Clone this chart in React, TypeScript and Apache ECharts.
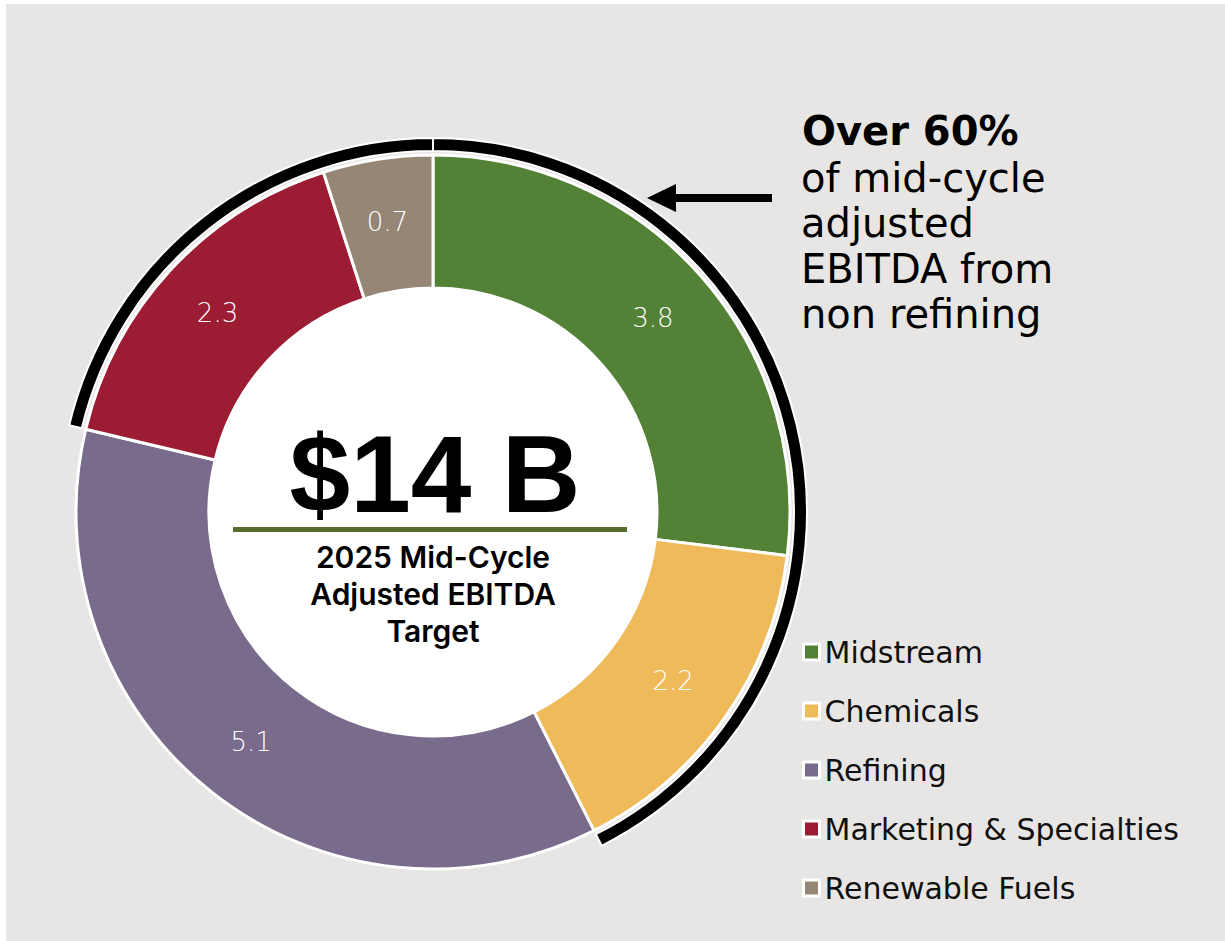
import React, { useEffect, useRef } from "react";
import * as echarts from "echarts";

const categories = ["Midstream", "Chemicals", "Refining", "Marketing & Specialties", "Renewable Fuels"];
const values = [3.8, 2.2, 5.1, 2.3, 0.7];
const colors = ["#538135", "#efbb5a", "#796b8c", "#9b1c33", "#968675"];
const nonRefining = [true, true, false, true, true];
const centerTitle = "$14 B";
const centerSubtitle = ["2025 Mid-Cycle", "Adjusted EBITDA", "Target"];
const calloutBold = "Over 60%";
const calloutLines = ["of mid-cycle", "adjusted", "EBITDA from", "non refining"];

const FONT = "'DejaVu Sans', sans-serif";
const CX = 433;
const CY = 512;

export default function App() {
  const ref = useRef<HTMLDivElement>(null);
  useEffect(() => {
    document.body.style.margin = "0";
    if (!ref.current) return;
    const chart = echarts.init(ref.current, null, { renderer: "svg" });

    // ring data: merge contiguous non-refining groups
    const ringData: any[] = [];
    let acc = 0;
    let accFlag: boolean | null = null;
    values.forEach((v, i) => {
      const f = nonRefining[i];
      if (accFlag === null || f === accFlag) {
        acc += v;
        accFlag = f;
      } else {
        ringData.push({ value: acc, flag: accFlag });
        acc = v;
        accFlag = f;
      }
    });
    ringData.push({ value: acc, flag: accFlag });

    chart.setOption({
      animation: false,
      backgroundColor: "#ffffff",
      graphic: [
        { type: "rect", z: -10, shape: { x: 6, y: 4, width: 1225, height: 941 }, style: { fill: "#e7e6e4" } },
        { type: "circle", z: -5, shape: { cx: CX, cy: CY, r: 226 }, style: { fill: "#ffffff" } },
        {
          type: "text",
          z: 10,
          x: CX + 2,
          y: 474,
          style: {
            text: centerTitle,
            fill: "#000",
            font: "bold 109px 'Liberation Sans', Arial, sans-serif",
            align: "center",
            verticalAlign: "middle",
          },
        },
        { type: "rect", z: 10, shape: { x: 233, y: 527, width: 394, height: 5 }, style: { fill: "#576d30" } },
        {
          type: "text",
          z: 10,
          x: CX,
          y: 594,
          style: {
            text: centerSubtitle.join("\n"),
            fill: "#000",
            fontFamily: "Inter, 'Noto Sans', sans-serif",
            fontWeight: 600,
            fontSize: 30,
            lineHeight: 37,
            align: "center",
            verticalAlign: "middle",
          },
        },
        {
          type: "text",
          z: 10,
          x: 802,
          y: 131,
          style: {
            text: calloutBold,
            fill: "#000",
            font: "bold 40px " + FONT,
            align: "left",
            verticalAlign: "middle",
          },
        },
        {
          type: "text",
          z: 10,
          x: 801,
          y: 155.5,
          style: {
            text: calloutLines.join("\n"),
            fill: "#000",
            fontFamily: FONT,
            fontSize: 40,
            lineHeight: 45.3,
            align: "left",
            verticalAlign: "top",
          },
        },
        { type: "rect", z: 10, shape: { x: 672, y: 194, width: 100, height: 8 }, style: { fill: "#000" } },
        {
          type: "polygon",
          z: 10,
          shape: { points: [[647, 198], [676, 184], [676, 212]] },
          style: { fill: "#000" },
        },
      ],
      legend: {
        orient: "vertical",
        left: 797,
        top: 632,
        itemWidth: 16,
        itemHeight: 16,
        itemGap: 29,
        icon: "rect",
        itemStyle: { borderColor: "#ffffff", borderWidth: 3 },
        textStyle: { fontFamily: FONT, fontSize: 30, color: "#111", lineHeight: 30 },
        data: categories,
      },
      series: [
        {
          type: "pie",
          center: [CX, CY],
          radius: [224, 357],
          startAngle: 90,
          clockwise: true,
          silent: true,
          itemStyle: { borderColor: "#ffffff", borderWidth: 3 },
          label: {
            show: true,
            position: "inside",
            color: "#ffffff",
            fontFamily: FONT,
            fontWeight: 200,
            fontSize: 26,
            formatter: (p: any) => String(p.value),
          },
          labelLine: { show: false },
          data: categories.map((c, i) => ({ name: c, value: values[i], itemStyle: { color: colors[i] } })),
        },
        {
          type: "pie",
          center: [CX, CY],
          radius: [361, 374],
          startAngle: 90,
          clockwise: true,
          silent: true,
          label: { show: false },
          labelLine: { show: false },
          data: ringData.map((d, i) => ({
            name: "ring" + i,
            value: d.value,
            itemStyle: d.flag
              ? { color: "#000", borderColor: "#ffffff", borderWidth: 2 }
              : { color: "rgba(0,0,0,0)", borderWidth: 0 },
          })),
        },
      ],
    });
    return () => chart.dispose();
  }, []);
  return <div ref={ref} style={{ width: 1225, height: 941 }} />;
}
